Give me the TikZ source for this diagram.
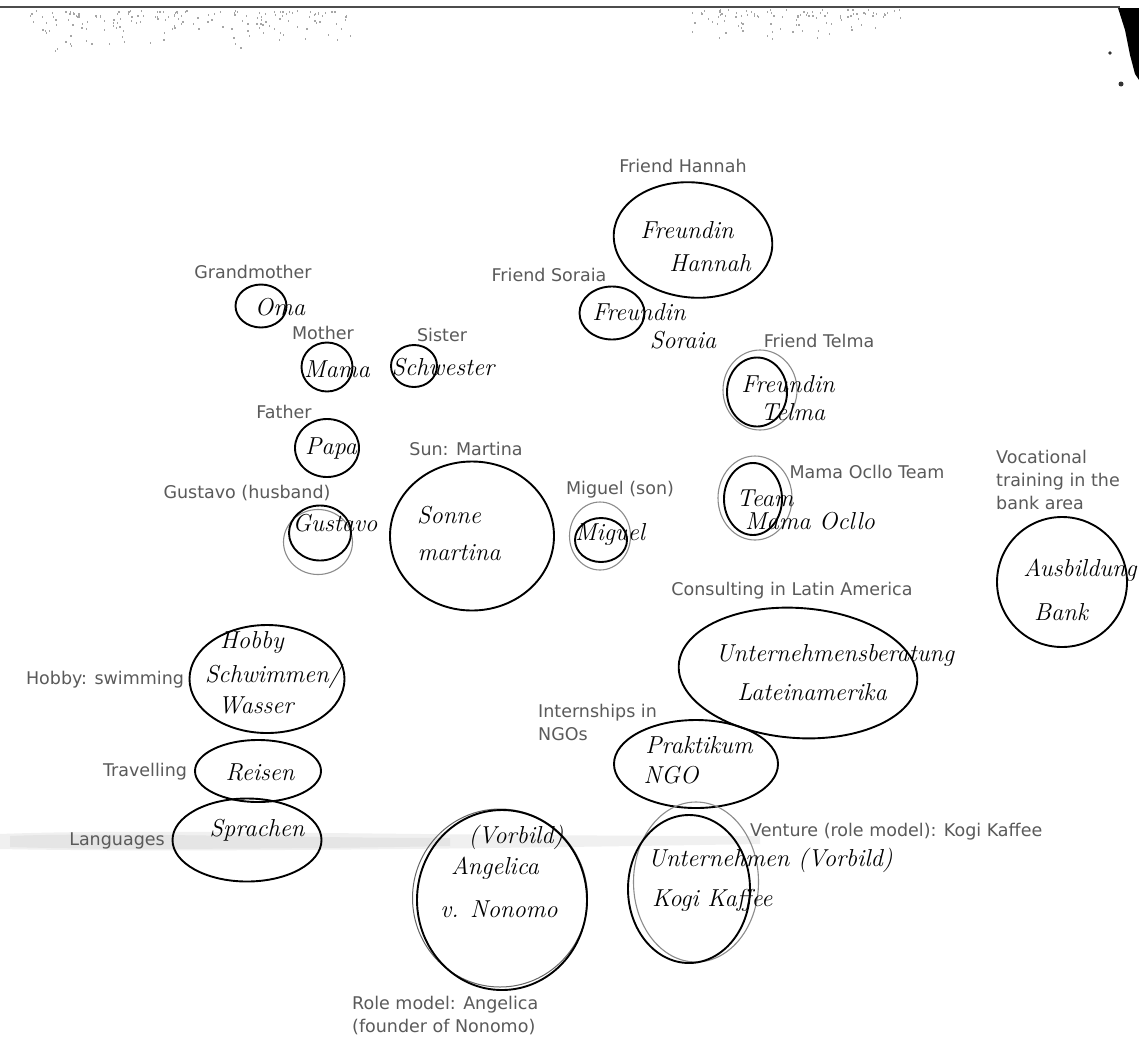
\documentclass[tikz,border=0pt]{standalone}
\usepackage{fontspec}
\newfontfamily\labfont{DejaVu Sans}
\usetikzlibrary{shapes.geometric}
\definecolor{labgray}{HTML}{5A5A5A}
\tikzset{
  lab/.style={text=labgray, font=\labfont\fontsize{17.5}{22.8}\selectfont, inner sep=0pt, align=left},
  ring/.style={draw=black, line width=1.9pt, ellipse, inner sep=0pt},
  faint/.style={draw=black!45, line width=1.1pt, ellipse, inner sep=0pt},
  hw/.style={font=\fontsize{24.5}{27}\selectfont\itshape, inner sep=0pt, align=center},
  speck/.style={fill=black!35}
}
\begin{document}
\begin{tikzpicture}[x=1pt,y=-1pt]
\useasboundingbox (0,0) rectangle (1139,1039);
\fill[white] (0,0) rectangle (1139,1039);
% scan artefacts
\draw[black!70, line width=1.2pt] (0,7) -- (1120,7);
\fill[black] (1118,8) -- (1139,8) -- (1139,80) -- (1135,74) -- (1130,55) -- (1125,30) -- cycle;
\fill[black!80] (1121,84) circle (2.5);
\fill[black!80] (1110,53) circle (1.8);
\pgfmathsetseed{7}
\foreach \i in {1,...,170}{
  \pgfmathsetmacro{\sx}{30+320*rnd}
  \pgfmathsetmacro{\sy}{10+45*rnd*rnd}
  \fill[speck] (\sx,\sy) rectangle ++(1.3,2);
}
\foreach \i in {1,...,100}{
  \pgfmathsetmacro{\sx}{690+210*rnd}
  \pgfmathsetmacro{\sy}{9+35*rnd*rnd}
  \fill[speck] (\sx,\sy) rectangle ++(1.3,2);
}
\fill[black!6] (0,834) .. controls (150,828) and (400,836) .. (760,836) -- (760,844) .. controls (400,850) and (150,852) .. (0,849) -- cycle;
\fill[black!10] (10,836) .. controls (100,832) and (300,838) .. (450,838) -- (450,846) .. controls (300,849) and (100,850) .. (10,847) -- cycle;

% family
\node[ring, minimum width=51, minimum height=43] (oma) at (261,306) {};
\node[hw] (omat) at (280,307) {Oma};
\node[lab] (omal) at (253,272) {Grandmother};

\node[ring, minimum width=51, minimum height=49] (mama) at (327,367) {};
\node[hw] (mamat) at (337,369) {Mama};
\node[lab] (mamal) at (323,333) {Mother};

\node[ring, minimum width=46, minimum height=42] (schw) at (414,366) {};
\node[hw] (schwt) at (443,367) {Schwester};
\node[lab] (schwl) at (442,335) {Sister};

\node[ring, minimum width=64, minimum height=58] (papa) at (327,448) {};
\node[hw] (papat) at (331,449) {Papa};
\node[lab] (papal) at (284,412) {Father};

\node[faint, minimum width=69, minimum height=65] (gusg) at (318,542) {};
\node[ring, minimum width=62, minimum height=55] (gus) at (320,533) {};
\node[hw] (gust) at (335,523) {Gustavo};
\node[lab] (gusl) at (247,493) {Gustavo (husband)};

\node[ring, minimum width=164, minimum height=149] (sonne) at (472,536) {};
\node[hw] (sonnet1) at (449,515) {Sonne};
\node[hw] (sonnet2) at (459,553) {martina};
\node[lab] (sonnel) at (466,449) {Sun: Martina};

\node[faint, minimum width=61, minimum height=68] (miggray) at (600,536) {};
\node[ring, minimum width=52, minimum height=44] (mig) at (601,540) {};
\node[hw] (migt) at (610,534) {Miguel};
\node[lab] (migl) at (620,490) {Miguel (son)};

% friends
\node[ring, minimum width=159, minimum height=115, rotate=-6] (hannah) at (693,240) {};
\node[hw] (hannaht1) at (687,230) {Freundin};
\node[hw] (hannaht2) at (710,263) {Hannah};
\node[lab] (hannahl) at (683,166) {Friend Hannah};

\node[ring, minimum width=65, minimum height=53] (soraia) at (612,313) {};
\node[hw] (soraiat1) at (639,312) {Freundin};
\node[hw] (soraiat2) at (683,340) {Soraia};
\node[lab] (soraial) at (549,275) {Friend Soraia};

\node[faint, minimum width=74, minimum height=80] (telmag) at (760,390) {};
\node[ring, minimum width=60, minimum height=69] (telma) at (757,392) {};
\node[hw] (telmat1) at (788,384) {Freundin};
\node[hw] (telmat2) at (793,412) {Telma};
\node[lab] (telmal) at (819,341) {Friend Telma};

\node[faint, minimum width=74, minimum height=84] (teamg) at (755,498) {};
\node[ring, minimum width=58, minimum height=72] (team) at (753,499) {};
\node[hw] (teamt1) at (765,498) {Team};
\node[hw] (teamt2) at (810,521) {Mama Ocllo};
\node[lab] (teaml) at (867,472) {Mama Ocllo Team};

% work
\node[ring, minimum width=130, minimum height=130] (bank) at (1062,582) {};
\node[hw] (bankt1) at (1080,570) {Ausbildung};
\node[hw] (bankt2) at (1061,612) {Bank};
\node[lab, anchor=north west] (bankl) at (996,450) {Vocational\\training in the\\bank area};

\node[ring, minimum width=239, minimum height=130, rotate=-4] (ber) at (798,673) {};
\node[hw] (bert1) at (835,655) {Unternehmensberatung};
\node[hw] (bert2) at (812,692) {Lateinamerika};
\node[lab] (berl) at (792,591) {Consulting in Latin America};

\node[ring, minimum width=164, minimum height=88] (ngo) at (696,764) {};
\node[hw] (ngot1) at (699,745) {Praktikum};
\node[hw] (ngot2) at (671,775) {NGO};
\node[lab, anchor=north west] (ngol) at (538,704) {Internships in\\NGOs};

\node[faint, minimum width=125, minimum height=160] (kogig) at (696,882) {};
\node[ring, minimum width=122, minimum height=148] (kogi) at (689,889) {};
\node[hw, anchor=west] (kogit1) at (648,860) {Unternehmen (Vorbild)};
\node[hw, anchor=west] (kogit2) at (652,900) {Kogi Kaffee};
\node[lab, anchor=west] (kogil) at (750,832) {Venture (role model): Kogi Kaffee};

\node[draw=black!60, line width=1pt, ellipse, minimum width=175, minimum height=178] (angg) at (500,898) {};
\node[ring, minimum width=170, minimum height=180] (ang) at (502,900) {};
\node[hw] (angt1) at (516,837) {(Vorbild)};
\node[hw] (angt2) at (495,868) {Angelica};
\node[hw] (angt3) at (499,909) {v. Nonomo};
\node[lab, anchor=north west] (angl) at (352,996) {Role model: Angelica\\(founder of Nonomo)};

% hobbies
\node[ring, minimum width=155, minimum height=108] (hobby) at (267,679) {};
\node[hw] (hobbyt1) at (252,642) {Hobby};
\node[hw] (hobbyt2) at (273,676) {Schwimmen/};
\node[hw] (hobbyt3) at (256,705) {Wasser};
\node[lab] (hobbyl) at (105,680) {Hobby: swimming};

\node[ring, minimum width=126, minimum height=62] (reisen) at (258,771) {};
\node[hw] (reisent) at (260,772) {Reisen};
\node[lab] (reisenl) at (145,772) {Travelling};

\node[ring, minimum width=149, minimum height=83] (spr) at (247,840) {};
\node[hw] (sprt) at (257,830) {Sprachen};
\node[lab] (sprl) at (117,841) {Languages};
\end{tikzpicture}
\end{document}
